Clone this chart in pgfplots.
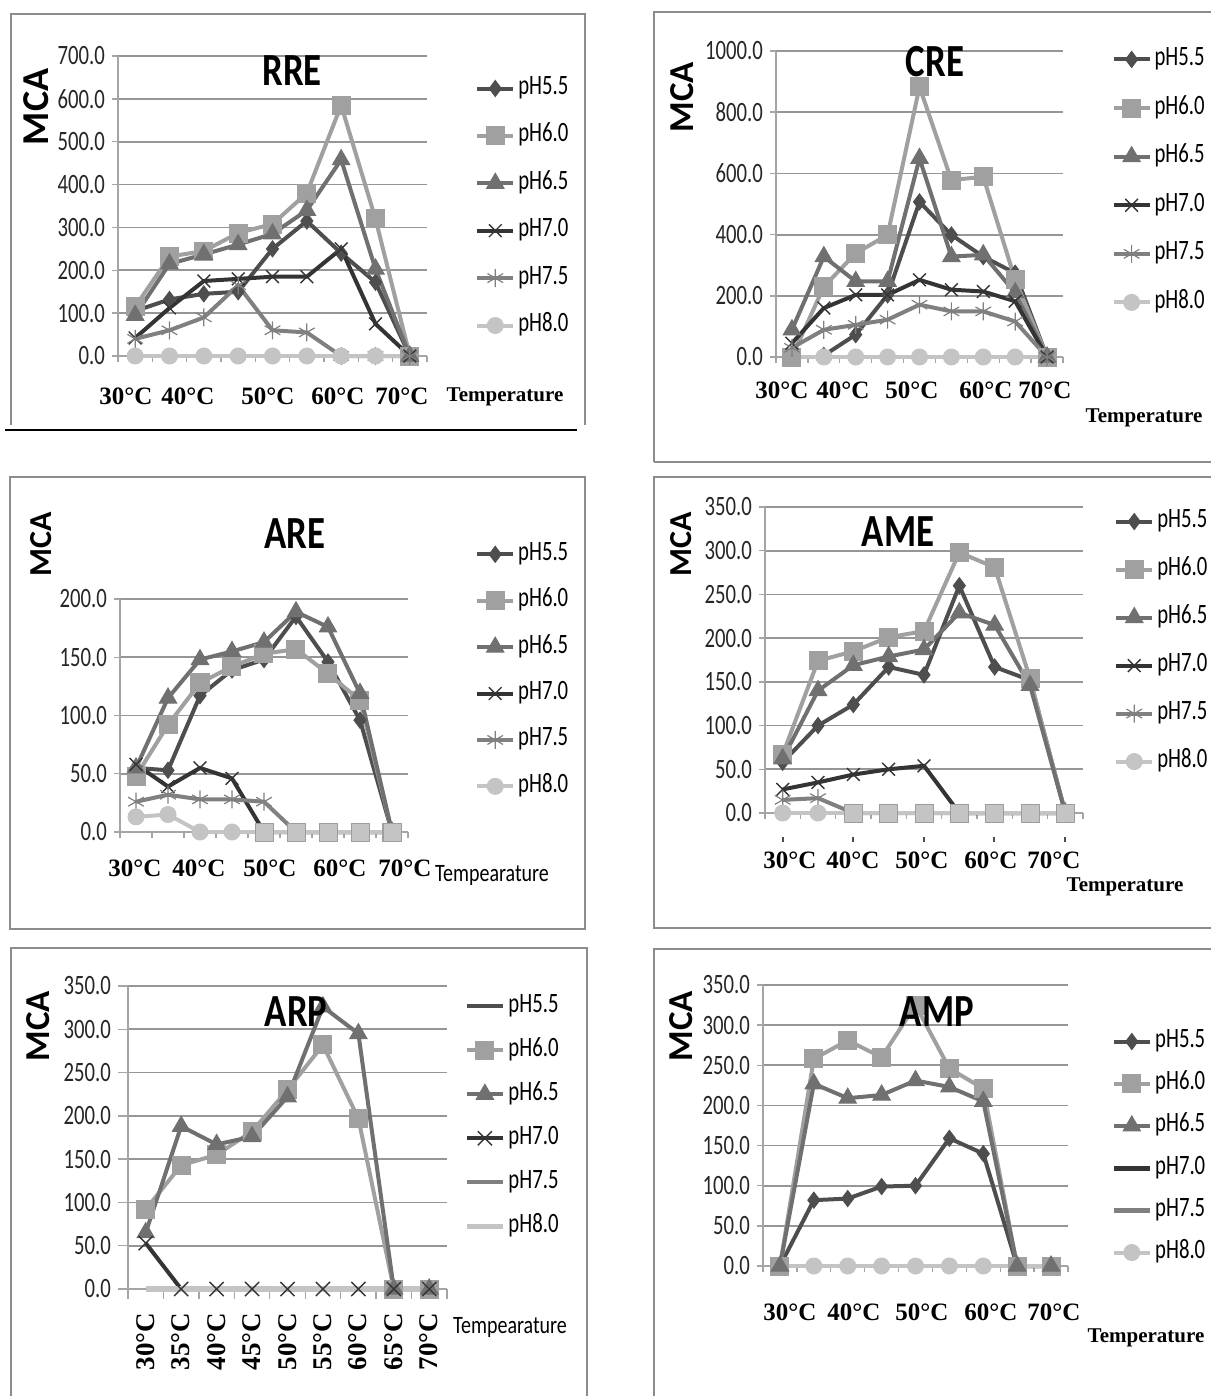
\documentclass[border=0pt]{standalone}
\usepackage{fontspec}
\setmainfont{Liberation Serif}
\newfontfamily\nfont[FakeStretch=0.8]{Carlito}
\newfontfamily\kfont[FakeStretch=0.74]{Carlito}
\newfontfamily\cfont{Carlito}
\usepackage{pgfplots}
\pgfplotsset{compat=1.18}

\definecolor{cA}{RGB}{78,78,78}    % pH5.5
\definecolor{cB}{RGB}{160,160,160} % pH6.0
\definecolor{cC}{RGB}{112,112,112} % pH6.5
\definecolor{cD}{RGB}{52,52,52}    % pH7.0
\definecolor{cE}{RGB}{128,128,128} % pH7.5
\definecolor{cF}{RGB}{196,196,196} % pH8.0
\definecolor{gridg}{RGB}{150,150,150}
\definecolor{axisg}{RGB}{165,165,165}
\definecolor{frameg}{RGB}{140,140,140}

\newcommand\xfont{\bfseries\fontsize{12.5}{12.5}\selectfont}
\newcommand\tfont{\nfont\bfseries\fontsize{23}{23}\selectfont}

\pgfplotsset{
  panel/.style={
    scale only axis, anchor=south west,
    xmin=27.5, xmax=72.5, ymin=0,
    axis lines*=left, tick pos=left,
    axis line style={-, draw=axisg, line width=0.9pt},
    xtick={27.5,32.5,...,72.5}, xticklabels={},
    ymajorgrids, grid style={draw=gridg, line width=0.9pt},
    tick style={draw=axisg, line width=0.7pt},
    tick align=outside, major tick length=3pt,
    scaled y ticks=false,
    clip=false,
    yticklabel style={font=\kfont\fontsize{14}{14}\selectfont, text=black!85,
      /pgf/number format/.cd, fixed, fixed zerofill, precision=1, 1000 sep={}, assume math mode=true},
    legend cell align=left,
    legend image code/.code={\draw[mark indices={2}] plot coordinates {(0pt,0pt) (9pt,0pt) (18pt,0pt)};},
    legend style={draw=none, fill=none, anchor=north west, inner sep=0pt,
      font=\kfont\fontsize{14}{14}\selectfont, column sep=1.5pt,
      nodes={inner sep=0pt, text height=9pt, text depth=3pt}},
  },
  s55/.style={cA, line width=2pt, mark=diamond*, mark size=4pt, mark options={solid, line width=0.5pt, fill=cA}},
  s60/.style={cB, line width=2pt, mark=square*, mark size=4.5pt, mark options={solid, line width=0.5pt, fill=cB}},
  s65/.style={cC, line width=2pt, mark=triangle*, mark size=5pt, mark options={solid, line width=0.5pt, fill=cC}},
  s70/.style={cD, line width=2pt, mark=x, mark size=4.5pt, mark options={solid, line width=0.7pt}},
  s75/.style={cE, line width=2pt, mark=asterisk, mark size=4.5pt, mark options={solid, line width=0.6pt}},
  s80/.style={cF, line width=2pt, mark=*, mark size=4pt, mark options={solid, line width=0.5pt, fill=cF}},
}

\begin{document}
\begin{tikzpicture}
\useasboundingbox (0,0) rectangle (605pt,-698pt);

% ---------- frames ----------
\begin{scope}[x=0.5pt,y=-0.5pt]
\draw[frameg, line width=1pt] (11,425) -- (11,14) -- (585,14) -- (585,425);
\draw[black, line width=1.3pt] (5,430) -- (577,430);
\draw[frameg, line width=1pt] (654,462) -- (654,12) -- (1220,12);
\draw[frameg, line width=1pt] (654,462) -- (1220,462);
\draw[frameg, line width=1pt] (10,477) rectangle (585,929);
\draw[frameg, line width=1pt] (1220,477) -- (654,477) -- (654,928) -- (1220,928);
\draw[frameg, line width=1pt] (11,1400) -- (11,948) -- (587,948) -- (587,1400);
\draw[frameg, line width=1pt] (654,1400) -- (654,949) -- (1220,949);
\end{scope}

% ---------- RRE ----------
\begin{axis}[panel, at={(59pt,-178pt)}, width=154.5pt, height=150pt,
  ymax=700, ytick={0,100,...,700},
  legend style={at={(1.155,0.933)}, row sep=11.7pt}]
\addplot[s55] coordinates {(30,105)(35,132)(40,145)(45,150)(50,250)(55,315)(60,240)(65,172)(70,0)};
\addplot[s60] coordinates {(30,115)(35,232)(40,245)(45,287)(50,308)(55,380)(60,585)(65,320)(70,0)};
\addplot[s65] coordinates {(30,95)(35,215)(40,237)(45,260)(50,285)(55,340)(60,458)(65,203)(70,0)};
\addplot[s70] coordinates {(30,42)(35,112)(40,175)(45,180)(50,185)(55,185)(60,250)(65,75)(70,0)};
\addplot[s75] coordinates {(30,40)(35,60)(40,90)(45,165)(50,60)(55,55)(60,0)(65,0)(70,0)};
\addplot[s80, mark indices={1,...,8}] coordinates {(30,0)(35,0)(40,0)(45,0)(50,0)(55,0)(60,0)(65,0)(70,0)};
\legend{pH5.5,pH6.0,pH6.5,pH7.0,pH7.5,pH8.0}
\end{axis}

% ---------- CRE ----------
\begin{axis}[panel, at={(388pt,-178.5pt)}, width=143.5pt, height=153pt,
  ymax=1000, ytick={0,200,...,1000},
  legend style={at={(1.168,1.013)}, row sep=12.3pt}]
\addplot[s55] coordinates {(35,5)(40,73)(45,203)(50,507)(55,399)(60,328)(65,274)(70,0)};
\addplot[s60] coordinates {(30,0)(35,230)(40,339)(45,399)(50,883)(55,578)(60,589)(65,252)(70,0)};
\addplot[s65] coordinates {(30,89)(35,328)(40,247)(45,247)(50,649)(55,328)(60,334)(65,210)(70,0)};
\addplot[s70] coordinates {(30,45)(35,160)(40,203)(45,203)(50,252)(55,220)(60,214)(65,182)(70,0)};
\addplot[s75] coordinates {(30,30)(35,89)(40,105)(45,122)(50,171)(55,149)(60,149)(65,116)(70,0)};
\addplot[s80, mark indices={2,...,8}] coordinates {(30,0)(35,0)(40,0)(45,0)(50,0)(55,0)(60,0)(65,0)(70,0)};
\legend{pH5.5,pH6.0,pH6.5,pH7.0,pH7.5,pH8.0}
\end{axis}

% ---------- ARE ----------
\begin{axis}[panel, at={(60pt,-416pt)}, width=144pt, height=116.5pt,
  ymax=200, ytick={0,50,...,200},
  legend style={at={(1.232,1.245)}, row sep=11.2pt}]
\addplot[s55] coordinates {(30,55)(35,53)(40,117)(45,139)(50,148)(55,185)(60,146)(65,96)(70,0)};
\addplot[s60] coordinates {(30,48)(35,92)(40,128)(45,142)(50,153)(55,157)(60,136)(65,113)(70,0)};
\addplot[s65] coordinates {(30,55)(35,115)(40,148)(45,155)(50,163)(55,189)(60,176)(65,119)(70,0)};
\addplot[s70] coordinates {(30,58)(35,39)(40,55)(45,46)(50,0)(55,0)(60,0)(65,0)(70,0)};
\addplot[s75] coordinates {(30,26)(35,32)(40,28)(45,28)(50,26)(55,0)(60,0)(65,0)(70,0)};
\addplot[s80, mark indices={1,...,4}] coordinates {(30,13)(35,15)(40,0)(45,0)(50,0)(55,0)(60,0)(65,0)(70,0)};
\addplot[only marks, forget plot, mark=square*, mark size=4.5pt, mark options={fill=cF, draw=cF!80!black, line width=0.4pt}]
  coordinates {(50,0)(55,0)(60,0)(65,0)(70,0)};
\legend{pH5.5,pH6.0,pH6.5,pH7.0,pH7.5,pH8.0}
\end{axis}

% ---------- AME ----------
\begin{axis}[panel, at={(382.5pt,-406.5pt)}, width=159pt, height=153pt,
  ymax=350, ytick={0,50,...,350},
  legend style={at={(1.097,0.993)}, row sep=12pt}]
\addplot[s55] coordinates {(30,58)(35,100)(40,124)(45,167)(50,158)(55,260)(60,167)(65,152)(70,0)};
\addplot[s60] coordinates {(30,67)(35,174)(40,185)(45,201)(50,208)(55,298)(60,281)(65,154)(70,0)};
\addplot[s65] coordinates {(30,62)(35,140)(40,169)(45,179)(50,187)(55,229)(60,215)(65,146)(70,0)};
\addplot[s70] coordinates {(30,27)(35,35)(40,44)(45,50)(50,54)(55,0)(60,0)(65,0)(70,0)};
\addplot[s75] coordinates {(30,15)(35,17)(40,0)(45,0)(50,0)(55,0)(60,0)(65,0)(70,0)};
\addplot[s80, mark indices={1,2}] coordinates {(30,0)(35,0)(40,0)(45,0)(50,0)(55,0)(60,0)(65,0)(70,0)};
\addplot[only marks, forget plot, mark=square*, mark size=4.5pt, mark options={fill=cF, draw=cF!80!black, line width=0.4pt}]
  coordinates {(40,0)(45,0)(50,0)(55,0)(60,0)(65,0)(70,0)};
\legend{pH5.5,pH6.0,pH6.5,pH7.0,pH7.5,pH8.0}
\end{axis}

% ---------- ARP ----------
\begin{axis}[panel, at={(64pt,-644.5pt)}, width=159.5pt, height=151.5pt,
  ymax=350, ytick={0,50,...,350}, major tick length=5pt,
  legend style={at={(1.053,0.974)}, row sep=10pt}]
\addplot[cA, line width=2pt, no markers] coordinates {(30,0)(35,0)(40,0)(45,0)(50,0)(55,0)(60,0)(65,0)(70,0)};
\addplot[s60] coordinates {(30,92)(35,143)(40,155)(45,182)(50,230)(55,282)(60,197)(65,0)(70,0)};
\addplot[s65] coordinates {(30,65)(35,188)(40,167)(45,176)(50,222)(55,326)(60,295)(65,0)(70,0)};
\addplot[s70, mark size=5pt] coordinates {(30,53)(35,0)(40,0)(45,0)(50,0)(55,0)(60,0)(65,0)(70,0)};
\addplot[cE, line width=2pt, no markers] coordinates {(30,0)(35,0)(40,0)(45,0)(50,0)(55,0)(60,0)(65,0)(70,0)};
\addplot[cF, line width=2.6pt, no markers] coordinates {(30,0)(35,0)(40,0)(45,0)(50,0)(55,0)(60,0)(65,0)(70,0)};
\legend{pH5.5,pH6.0,pH6.5,pH7.0,pH7.5,pH8.0}
\end{axis}

% ---------- AMP ----------
\begin{axis}[panel, at={(381.5pt,-633pt)}, width=152.5pt, height=140.5pt,
  ymax=350, ytick={0,50,...,350},
  legend style={at={(1.141,0.843)}, row sep=9.1pt}]
\addplot[s55] coordinates {(30,0)(35,82)(40,84)(45,99)(50,100)(55,159)(60,140)(65,0)(70,0)};
\addplot[s60] coordinates {(30,0)(35,258)(40,281)(45,260)(50,325)(55,246)(60,221)(65,0)(70,0)};
\addplot[s65] coordinates {(30,0)(35,227)(40,209)(45,213)(50,231)(55,223)(60,205)(65,0)(70,0)};
\addplot[cD, line width=2.4pt, no markers] coordinates {(30,0)(35,0)(40,0)(45,0)(50,0)(55,0)(60,0)(65,0)(70,0)};
\addplot[cE, line width=2.4pt, no markers] coordinates {(30,0)(35,0)(40,0)(45,0)(50,0)(55,0)(60,0)(65,0)(70,0)};
\addplot[s80, mark indices={2,...,7}] coordinates {(30,0)(35,0)(40,0)(45,0)(50,0)(55,0)(60,0)(65,0)(70,0)};
\legend{pH5.5,pH6.0,pH6.5,pH7.0,pH7.5,pH8.0}
\end{axis}

% ---------- titles, axis labels, category labels ----------
\begin{scope}[x=0.5pt,y=-0.5pt]
\node[font=\tfont] at (292,71) {RRE};
\node[font=\tfont] at (935,62) {CRE};
\node[font=\tfont] at (295,534) {ARE};
\node[font=\tfont] at (898,532) {AME};
\node[font=\tfont] at (296,1012) {ARP};
\node[font=\tfont] at (937,1012) {AMP};

\node[rotate=90, font=\cfont\bfseries\fontsize{19}{19}\selectfont] at (36,107) {MCA};
\node[rotate=90, font=\cfont\bfseries\fontsize{17.5}{17.5}\selectfont] at (682,97) {MCA};
\node[rotate=90, font=\cfont\bfseries\fontsize{16}{16}\selectfont] at (41,544) {MCA};
\node[rotate=90, font=\cfont\bfseries\fontsize{16}{16}\selectfont] at (681,544) {MCA};
\node[rotate=90, font=\cfont\bfseries\fontsize{17.5}{17.5}\selectfont] at (38,1026) {MCA};
\node[rotate=90, font=\cfont\bfseries\fontsize{17.5}{17.5}\selectfont] at (681,1026) {MCA};

% RRE
\foreach \x/\t in {126/30,188/40,268/50,338/60,402/70}
  \node[font=\xfont] at (\x,396) {\t°C};
\node[font=\bfseries\fontsize{10.5}{10.5}\selectfont] at (505,397) {Temperature};
% CRE
\foreach \x/\t in {782/30,843/40,912/50,986/60,1045/70}
  \node[font=\xfont] at (\x,390) {\t°C};
\node[font=\bfseries\fontsize{10.5}{10.5}\selectfont] at (1144,418) {Temperature};
% ARE
\foreach \x/\t in {135/30,199/40,270/50,340/60,405/70}
  \node[font=\xfont] at (\x,868) {\t°C};
\node[font=\nfont\fontsize{12.5}{12.5}\selectfont] at (492,875) {Tempearature};
% AME
\foreach \x in {783,853,924,994,1065}
  \draw[black!70, line width=0.8pt] (\x,837) -- (\x,842);
\foreach \x/\t in {790/30,853/40,922/50,991/60,1054/70}
  \node[font=\xfont] at (\x,860) {\t°C};
\node[font=\bfseries\fontsize{10.5}{10.5}\selectfont] at (1125,887) {Temperature};
% ARP
\foreach \i/\t in {0/30,1/35,2/40,3/45,4/50,5/55,6/60,7/65,8/70}
  \node[rotate=90, anchor=east, font=\bfseries\fontsize{13.5}{13.5}\selectfont] at (145.7+35.4*\i,1306) {\t°C};
\node[font=\nfont\fontsize{12.5}{12.5}\selectfont] at (510,1327) {Tempearature};
% AMP
\foreach \x/\t in {790/30,854/40,922/50,991/60,1054/70}
  \node[font=\xfont] at (\x,1312) {\t°C};
\node[font=\bfseries\fontsize{10.5}{10.5}\selectfont] at (1146,1338) {Temperature};
\end{scope}
\end{tikzpicture}
\end{document}
